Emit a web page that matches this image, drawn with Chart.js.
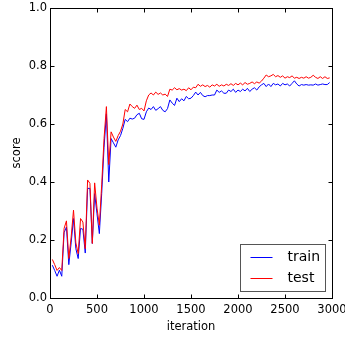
<!DOCTYPE html>
<html>
<head>
<meta charset="utf-8">
<script src="https://cdn.jsdelivr.net/npm/chart.js@4/dist/chart.umd.min.js"></script>
<style>
  html, body { margin: 0; padding: 0; background: #fff; }
  canvas { display: block; }
</style>
</head>
<body>
<canvas id="chart" width="345" height="337"></canvas>
<script>
// Training curve: score vs. iteration

const iterations = [
  25, 50, 75, 100, 125, 150, 175, 200, 225, 250,
  275, 300, 325, 350, 375, 400, 425, 450, 475, 500,
  525, 550, 575, 600, 625, 650, 675, 700, 725, 750,
  775, 800, 825, 850, 875, 900, 925, 950, 975, 1000,
  1025, 1050, 1075, 1100, 1125, 1150, 1175, 1200, 1225, 1250,
  1275, 1300, 1325, 1350, 1375, 1400, 1425, 1450, 1475, 1500,
  1525, 1550, 1575, 1600, 1625, 1650, 1675, 1700, 1725, 1750,
  1775, 1800, 1825, 1850, 1875, 1900, 1925, 1950, 1975, 2000,
  2025, 2050, 2075, 2100, 2125, 2150, 2175, 2200, 2225, 2250,
  2275, 2300, 2325, 2350, 2375, 2400, 2425, 2450, 2475, 2500,
  2525, 2550, 2575, 2600, 2625, 2650, 2675, 2700, 2725, 2750,
  2775, 2800, 2825, 2850, 2875, 2900, 2925, 2950, 2975
];

const trainScores = [
  0.113, 0.095, 0.075, 0.096, 0.075, 0.225, 0.245, 0.115, 0.19, 0.274,
  0.17, 0.136, 0.24, 0.237, 0.155, 0.378, 0.378, 0.188, 0.36, 0.29,
  0.222, 0.36, 0.52, 0.635, 0.40, 0.55, 0.535, 0.52, 0.545, 0.56,
  0.585, 0.616, 0.608, 0.62, 0.617, 0.62, 0.632, 0.637, 0.618, 0.616,
  0.642, 0.655, 0.65, 0.66, 0.647, 0.653, 0.66, 0.647, 0.642, 0.653,
  0.683, 0.672, 0.664, 0.689, 0.677, 0.687, 0.68, 0.695, 0.687, 0.689,
  0.698, 0.71, 0.70, 0.709, 0.698, 0.694, 0.698, 0.698, 0.70, 0.70,
  0.717, 0.709, 0.714, 0.706, 0.706, 0.717, 0.712, 0.72, 0.709, 0.717,
  0.712, 0.72, 0.714, 0.723, 0.712, 0.72, 0.725, 0.717, 0.728, 0.735,
  0.74, 0.729, 0.738, 0.729, 0.74, 0.735, 0.738, 0.731, 0.74, 0.735,
  0.738, 0.731, 0.74, 0.749, 0.738, 0.731, 0.736, 0.734, 0.736, 0.734,
  0.735, 0.734, 0.738, 0.734, 0.736, 0.738, 0.736, 0.736, 0.743
];

const testScores = [
  0.133, 0.115, 0.095, 0.105, 0.095, 0.24, 0.266, 0.136, 0.21, 0.303,
  0.19, 0.153, 0.274, 0.262, 0.17, 0.407, 0.395, 0.188, 0.397, 0.31,
  0.251, 0.39, 0.55, 0.66, 0.46, 0.573, 0.555, 0.54, 0.56, 0.575,
  0.60, 0.65, 0.642, 0.669, 0.66, 0.654, 0.665, 0.65, 0.654, 0.645,
  0.68, 0.70, 0.707, 0.70, 0.71, 0.702, 0.707, 0.70, 0.703, 0.695,
  0.72, 0.717, 0.725, 0.718, 0.722, 0.717, 0.72, 0.715, 0.725, 0.718,
  0.727, 0.725, 0.737, 0.73, 0.735, 0.729, 0.733, 0.727, 0.735, 0.731,
  0.737, 0.73, 0.735, 0.731, 0.737, 0.733, 0.739, 0.733, 0.74, 0.735,
  0.741, 0.735, 0.743, 0.737, 0.74, 0.745, 0.739, 0.745, 0.741, 0.748,
  0.758, 0.769, 0.763, 0.766, 0.771, 0.763, 0.767, 0.761, 0.766, 0.758,
  0.763, 0.76, 0.766, 0.758, 0.761, 0.757, 0.761, 0.758, 0.763, 0.758,
  0.761, 0.768, 0.761, 0.757, 0.763, 0.757, 0.763, 0.757, 0.759
];

const seriesLabels = ['train', 'test'];
const seriesColors = ['#0000ff', '#ff0000'];

const xTicks = [0, 500, 1000, 1500, 2000, 2500, 3000];
const yTicks = [0.0, 0.2, 0.4, 0.6, 0.8, 1.0];

const FONT = 'DejaVu Sans';

// frame + inward ticks on all four sides, like matplotlib classic
const framePlugin = {
  id: 'frame',
  afterDatasetsDraw(chart) {
    const { ctx, chartArea: a, scales } = chart;
    const L = Math.round(a.left) + 0.5, R = Math.round(a.right) + 0.5;
    const T = Math.round(a.top) + 0.5, B = Math.round(a.bottom) + 0.5;
    const len = 4;
    ctx.save();
    ctx.strokeStyle = '#000';
    ctx.lineWidth = 1;
    ctx.beginPath();
    xTicks.forEach(v => {
      const x = Math.round(scales.x.getPixelForValue(v)) + 0.5;
      ctx.moveTo(x, B); ctx.lineTo(x, B - len);
      ctx.moveTo(x, T); ctx.lineTo(x, T + len);
    });
    yTicks.forEach(v => {
      const y = Math.round(scales.y.getPixelForValue(v)) + 0.5;
      ctx.moveTo(L, y); ctx.lineTo(L + len, y);
      ctx.moveTo(R, y); ctx.lineTo(R - len, y);
    });
    ctx.stroke();
    ctx.strokeRect(L, T, R - L, B - T);
    ctx.restore();
  }
};

// boxed legend in the lower right corner of the plot
const legendPlugin = {
  id: 'boxLegend',
  afterDraw(chart) {
    const { ctx, chartArea: a } = chart;
    const w = 85, h = 47;
    const x = Math.round(a.right - 7 - w) + 0.5;
    const y = Math.round(a.bottom - 7 - h) + 0.5;
    ctx.save();
    ctx.fillStyle = '#fff';
    ctx.fillRect(x, y, w, h);
    ctx.strokeStyle = '#555';
    ctx.lineWidth = 1;
    ctx.strokeRect(x, y, w, h);
    ctx.font = '14px "' + FONT + '"';
    ctx.textBaseline = 'middle';
    chart.data.datasets.forEach((ds, i) => {
      const cy = Math.round(y + 12.5 + i * 21) + 0.5;
      ctx.strokeStyle = ds.borderColor;
      ctx.beginPath();
      ctx.moveTo(x + 10, cy);
      ctx.lineTo(x + 32, cy);
      ctx.stroke();
      ctx.fillStyle = '#000';
      ctx.fillText(ds.label, x + 47, cy);
    });
    ctx.restore();
  }
};

const ctx = document.getElementById('chart').getContext('2d');
new Chart(ctx, {
  type: 'line',
  data: {
    datasets: seriesLabels.map((label, i) => ({
      label: label,
      data: iterations.map((it, j) => ({ x: it, y: (i === 0 ? trainScores : testScores)[j] })),
      borderColor: seriesColors[i],
      borderWidth: 1,
      pointRadius: 0,
      tension: 0,
      fill: false,
      order: 2 - i
    }))
  },
  options: {
    responsive: false,
    animation: false,
    devicePixelRatio: 1,
    layout: { padding: { top: 8, right: 13, left: 0, bottom: 0 } },
    plugins: {
      legend: { display: false },
      tooltip: { enabled: false }
    },
    scales: {
      x: {
        type: 'linear',
        min: 0,
        max: 3000,
        afterBuildTicks: s => { s.ticks = xTicks.map(v => ({ value: v })); },
        afterFit: s => { s.height = 39; s.paddingLeft = 0; s.paddingRight = 0; },
        grid: { display: false, drawTicks: false, tickLength: 0 },
        border: { display: false },
        ticks: {
          color: '#000',
          padding: 5,
          maxRotation: 0,
          font: { family: FONT, size: 11.5 },
          callback: v => String(v)
        },
        title: {
          display: true,
          text: 'iteration',
          color: '#000',
          padding: { top: 3, bottom: 3 },
          font: { family: FONT, size: 11.5 }
        }
      },
      y: {
        min: 0,
        max: 1,
        afterBuildTicks: s => { s.ticks = yTicks.map(v => ({ value: v })); },
        afterFit: s => { s.width = 50; s.paddingTop = 0; s.paddingBottom = 0; },
        grid: { display: false, drawTicks: false, tickLength: 0 },
        border: { display: false },
        ticks: {
          color: '#000',
          padding: 3,
          font: { family: FONT, size: 11.5 },
          callback: v => Number(v).toFixed(1)
        },
        title: {
          display: true,
          text: 'score',
          color: '#000',
          padding: { top: 10, bottom: 10 },
          font: { family: FONT, size: 11.5 }
        }
      }
    }
  },
  plugins: [framePlugin, legendPlugin]
});
</script>
</body>
</html>
